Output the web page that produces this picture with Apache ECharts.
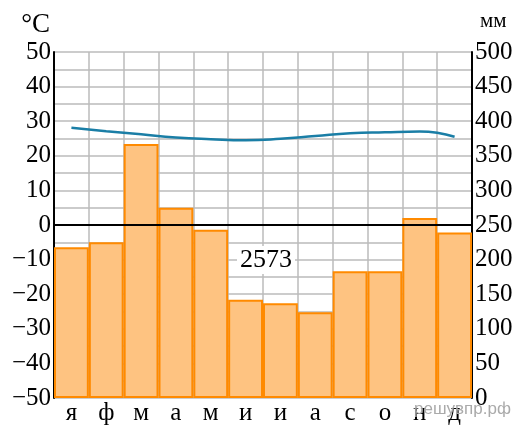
<!DOCTYPE html>
<html><head><meta charset="utf-8">
<script src="https://cdn.jsdelivr.net/npm/echarts@6/dist/echarts.min.js"></script>
<style>html,body{margin:0;padding:0;background:#fff}#c{width:518px;height:430px}</style>
</head><body><div id="c"></div>
<script>
const months = ['я','ф','м','а','м','и','и','а','с','о','н','д'];
const precipitation = [218, 225, 367, 275, 243, 142, 137, 124, 183, 183, 260, 239];
const temperature = [28.1, 27.1, 26.2, 25.3, 24.8, 24.5, 24.9, 25.7, 26.5, 26.8, 27.0, 25.5];
const totalText = '2573';
const font = 'Liberation Serif';
const chart = echarts.init(document.getElementById('c'));
chart.setOption({
  animation: false,
  grid: {left: 54, right: 46, top: 52, bottom: 32},
  xAxis: {
    type: 'category', data: months, boundaryGap: true,
    axisLine: {show: true, lineStyle: {color: '#000', width: 2}},
    axisTick: {show: false},
    axisLabel: {color: '#000', fontFamily: font, fontSize: 25, margin: 3},
    splitLine: {show: true, lineStyle: {color: '#bbb', width: 1.5}}
  },
  yAxis: [{
    type: 'value', min: -50, max: 50, interval: 10, position: 'left',
    name: '°C', nameLocation: 'end', nameGap: 14,
    nameTextStyle: {color: '#000', fontFamily: font, fontSize: 27, align: 'right', padding: [0, 4, 0, 0]},
    axisLine: {show: true, lineStyle: {color: '#000', width: 2}},
    axisTick: {show: false},
    axisLabel: {color: '#000', fontFamily: font, fontSize: 25, margin: 3,
      formatter: v => String(v).replace('-', '\u2212')},
    splitLine: {show: true, lineStyle: {color: '#bbb', width: 1.5}},
    minorTick: {show: false, splitNumber: 2},
    minorSplitLine: {show: true, lineStyle: {color: '#bbb', width: 1.5}}
  }, {
    type: 'value', min: 0, max: 500, interval: 50, position: 'right',
    name: 'мм', nameLocation: 'end', nameGap: 20,
    nameTextStyle: {color: '#000', fontFamily: font, fontSize: 21, align: 'left', padding: [0, 0, 0, 8]},
    axisLine: {show: true, lineStyle: {color: '#000', width: 2}},
    axisTick: {show: false},
    axisLabel: {color: '#000', fontFamily: font, fontSize: 25, margin: 3},
    splitLine: {show: false}
  }],
  series: [{
    type: 'bar', yAxisIndex: 1, data: precipitation, barWidth: '100%', barGap: '0%',
    itemStyle: {color: '#fec381', borderColor: '#ff8a00', borderWidth: 2},
    z: 2
  }, {
    type: 'line', yAxisIndex: 0, data: temperature, smooth: true, showSymbol: false,
    lineStyle: {color: '#1a7ea6', width: 2.5}, z: 4,
    markLine: {
      silent: true, symbol: 'none', label: {show: false},
      lineStyle: {color: '#000', width: 1.8, type: 'solid'},
      data: [{yAxis: 0}]
    }
  }],
  graphic: [{
    type: 'text', left: 237, top: 246, z: 10,
    style: {text: totalText, fill: '#000', fontFamily: font, fontSize: 26,
      backgroundColor: '#fff', padding: [1, 3, 1, 3]}
  }, {
    type: 'text', left: 414, top: 401, z: 10,
    style: {text: 'решувпр.рф', fill: '#aaa', fontFamily: 'Liberation Sans', fontSize: 17}
  }]
});
</script></body></html>
